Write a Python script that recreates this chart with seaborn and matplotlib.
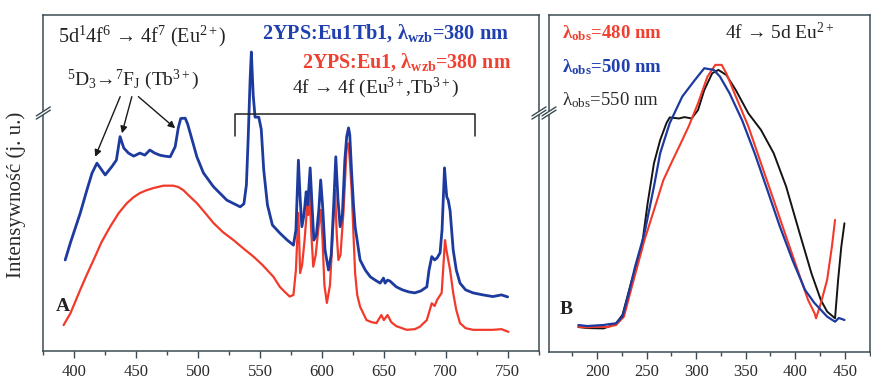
import numpy as np
import pandas as pd
import matplotlib
matplotlib.use("Agg")
import matplotlib.pyplot as plt
from matplotlib.lines import Line2D
from matplotlib.patches import Polygon
import seaborn as sns

# ---------------- data ----------------
# Panel A: emission spectra (wavelength in nm, intensity in arbitrary units)
em_eutb_wl = [392.7, 396.8, 399.4, 404.8, 410.2, 414.3, 418.3, 425.0, 430.4, 434.0, 437.0, 440.0,
              443.8, 448.0, 453.0, 457.0, 461.0, 465.0, 469.0, 473.0, 477.5, 481.5, 484.0, 486.0,
              489.6, 491.5, 493.6, 499.0, 504.3, 512.4, 523.2, 534.0, 537.0, 539.0, 540.4, 542.0,
              543.0, 544.5, 546.0, 549.0, 551.0, 553.0, 556.0, 560.0, 566.0, 572.0, 577.0, 579.0,
              581.0, 582.5, 583.8, 585.5, 587.3, 588.5, 590.5, 592.0, 593.5, 595.5, 597.5, 599.0,
              600.5, 602.5, 605.3, 607.5, 609.5, 611.2, 613.0, 614.7, 616.5, 618.5, 620.0, 621.5,
              622.5, 624.0, 625.5, 626.8, 630.8, 635.0, 639.0, 643.0, 647.0, 649.7, 651.0, 653.0,
              655.0, 660.0, 665.0, 670.0, 675.0, 680.0, 684.7, 686.5, 688.7, 691.0, 693.0, 695.4,
              697.0, 699.0, 700.0, 700.8, 702.0, 703.5, 706.0, 708.5, 711.5, 716.0, 722.0, 730.0,
              738.0, 745.0, 750.0]
em_eutb_int = [27.1, 32.1, 35.0, 41.0, 47.9, 52.9, 55.9, 52.4, 54.9, 56.8, 63.8, 60.4,
               58.9, 58.0, 58.9, 58.3, 59.8, 58.9, 58.3, 58.0, 57.8, 60.8, 66.4, 69.2,
               69.3, 67.6, 64.9, 57.8, 53.0, 48.9, 44.9, 42.9, 43.8, 49.4, 62.8, 80.7,
               89.0, 76.2, 69.6, 69.6, 66.0, 53.9, 43.5, 37.5, 35.1, 33.0, 31.5, 36.0,
               56.8, 44.9, 37.0, 40.5, 47.4, 43.5, 54.5, 43.5, 33.0, 34.5, 42.0, 50.9,
               43.5, 30.1, 24.1, 28.6, 43.5, 57.8, 44.9, 37.0, 40.5, 56.8, 63.8, 66.4,
               64.3, 53.0, 43.5, 37.0, 27.1, 24.1, 22.1, 21.1, 20.2, 21.7, 20.2, 21.1,
               20.8, 19.1, 18.2, 17.6, 17.3, 17.9, 19.1, 24.1, 28.1, 27.1, 27.7, 29.2,
               36.0, 54.5, 49.4, 45.9, 44.9, 41.8, 30.1, 24.1, 20.2, 18.2, 17.3, 16.7,
               16.2, 16.7, 16.1]

em_eu_wl = [391.4, 397.0, 404.8, 410.0, 415.6, 422.0, 429.0, 436.0, 442.5, 448.0, 453.0, 458.0,
            464.0, 472.0, 480.0, 484.0, 488.0, 493.0, 499.0, 505.0, 512.4, 520.0, 528.6, 536.0,
            544.7, 552.0, 560.8, 566.0, 570.0, 574.0, 577.0, 579.0, 581.0, 582.4, 584.0, 586.0,
            588.3, 589.0, 590.0, 591.5, 593.0, 595.0, 597.0, 599.0, 600.5, 602.0, 604.0, 606.5,
            608.5, 610.6, 612.0, 613.3, 615.0, 617.5, 620.0, 621.4, 622.5, 624.0, 625.5, 626.8,
            628.5, 630.8, 636.0, 640.0, 644.0, 648.0, 650.0, 653.0, 656.0, 660.0, 668.5, 675.0,
            679.0, 684.7, 688.7, 691.0, 693.0, 696.7, 699.4, 700.5, 701.5, 703.5, 706.0, 708.5,
            711.5, 716.0, 722.0, 730.0, 738.0, 745.0, 750.6]
em_eu_int = [7.7, 11.3, 18.2, 22.6, 27.1, 32.4, 37.0, 41.1, 44.0, 45.8, 47.0, 47.8,
             48.5, 49.2, 49.2, 48.8, 47.9, 46.1, 44.0, 41.4, 38.1, 35.4, 33.0, 30.7,
             28.1, 25.6, 22.1, 19.1, 17.6, 16.2, 16.7, 24.1, 41.1, 23.2, 25.6, 33.0,
             44.0, 40.5, 47.9, 34.5, 25.1, 28.6, 36.0, 42.0, 33.0, 19.6, 14.3, 19.6,
             33.0, 47.9, 34.5, 27.1, 28.6, 42.0, 60.8, 61.8, 56.8, 47.9, 34.5, 23.2,
             16.7, 13.2, 9.2, 8.6, 8.3, 10.7, 9.2, 10.7, 8.6, 7.4, 6.3, 6.5,
             7.2, 9.2, 14.2, 13.4, 15.2, 17.3, 33.0, 30.1, 28.1, 24.1, 17.3, 12.2,
             8.3, 6.8, 6.3, 6.3, 6.3, 6.5, 5.7]

# Panel B: excitation spectra for three observation wavelengths
ex480_wl = [180.9, 190.0, 200.0, 210.0, 219.0, 227.0, 235.0, 247.7, 257.3, 266.8, 276.3, 282.7,
            292.3, 301.8, 311.3, 319.3, 325.7, 330.4, 340.0, 352.7, 365.4, 378.2, 390.8, 403.5,
            413.0, 419.5, 421.0, 425.9, 432.2, 437.0, 440.2]
ex480_int = [7.5, 7.3, 7.5, 7.4, 8.0, 10.5, 19.4, 33.2, 42.1, 51.0, 57.0, 60.9,
             66.9, 73.8, 81.7, 85.2, 85.2, 82.7, 75.8, 66.9, 56.0, 45.1, 34.2, 23.4,
             15.4, 11.5, 10.0, 14.5, 21.4, 31.2, 39.2]

ex500_wl = [180.9, 190.0, 200.0, 206.4, 213.0, 219.0, 225.5, 231.8, 238.2, 247.7, 257.3, 263.6,
            273.2, 285.9, 298.6, 308.1, 317.7, 324.0, 333.6, 346.3, 359.0, 371.8, 384.5, 397.2,
            409.9, 419.5, 425.9, 432.2, 440.2, 444.0, 449.7]
ex500_int = [8.0, 7.7, 7.9, 8.0, 8.3, 8.5, 10.5, 17.4, 25.3, 35.2, 49.1, 59.0,
             67.9, 75.8, 80.7, 84.2, 83.7, 81.7, 76.8, 68.8, 59.0, 48.1, 37.2, 27.3,
             18.4, 14.5, 12.5, 10.5, 9.0, 10.1, 9.5]

ex550_wl = [180.9, 190.0, 206.4, 213.0, 219.0, 225.5, 235.0, 244.6, 250.9, 257.3, 263.6, 269.9,
            273.2, 282.7, 288.0, 295.4, 301.8, 308.1, 316.1, 322.4, 330.4, 340.0, 352.7, 365.4,
            378.2, 390.8, 403.5, 416.3, 425.9, 432.2, 440.2, 443.3, 446.5, 449.7]
ex550_int = [7.4, 7.1, 7.0, 7.7, 8.5, 11.0, 21.4, 30.3, 44.1, 56.0, 62.9, 67.9,
             69.6, 69.3, 69.7, 69.3, 71.8, 77.7, 82.7, 83.7, 82.2, 77.7, 70.8, 65.9,
             59.0, 49.1, 36.2, 23.4, 15.4, 12.0, 10.0, 21.4, 31.2, 38.2]

ticks_a = [400, 450, 500, 550, 600, 650, 700, 750]
ticks_b = [200, 250, 300, 350, 400, 450]

BLUE = "#1d3a9e"
RED = "#f23a2a"
BLACK = "#141414"
FRAME = "#3b4b52"

# ---------------- style ----------------
sns.set_theme(style="white")
plt.rcParams["font.family"] = ["Liberation Serif", "DejaVu Serif"]
plt.rcParams["mathtext.fontset"] = "custom"
plt.rcParams["mathtext.rm"] = "Liberation Serif"
plt.rcParams["mathtext.it"] = "Liberation Serif:italic"
plt.rcParams["mathtext.bf"] = "Liberation Serif:bold"

W, H = 871, 379
fig = plt.figure(figsize=(W / 100, H / 100), dpi=100)

# axes boxes in pixels: left, right, top, bottom
axA_px = (43.3, 539.0, 15.0, 351.0)
axB_px = (549.0, 869.5, 15.0, 352.0)

def add_axes(px):
    l, r, t, b = px
    return fig.add_axes([l / W, (H - b) / H, (r - l) / W, (b - t) / H])

axA = add_axes(axA_px)
axB = add_axes(axB_px)

dfA1 = pd.DataFrame({"wl": em_eutb_wl, "I": em_eutb_int})
dfA2 = pd.DataFrame({"wl": em_eu_wl, "I": em_eu_int})
sns.lineplot(data=dfA2, x="wl", y="I", ax=axA, color=RED, lw=1.6, sort=False)
sns.lineplot(data=dfA1, x="wl", y="I", ax=axA, color=BLUE, lw=2.0, sort=False)

dfB1 = pd.DataFrame({"wl": ex480_wl, "I": ex480_int})
dfB2 = pd.DataFrame({"wl": ex500_wl, "I": ex500_int})
dfB3 = pd.DataFrame({"wl": ex550_wl, "I": ex550_int})
sns.lineplot(data=dfB3, x="wl", y="I", ax=axB, color=BLACK, lw=1.4, sort=False)
sns.lineplot(data=dfB1, x="wl", y="I", ax=axB, color=RED, lw=1.5, sort=False)
sns.lineplot(data=dfB2, x="wl", y="I", ax=axB, color=BLUE, lw=1.6, sort=False)

axA.set_xlim(375.2, 775.3)
axB.set_xlim(151.3, 457.2)
for ax, ticks, step in ((axA, ticks_a, 25), (axB, ticks_b, 25)):
    ax.set_ylim(0, 100)
    ax.set_yticks([])
    ax.set_xticks(ticks)
    ax.set_xticks(np.arange(ticks[0] - 25, ticks[-1] + 30, 25), minor=True)
    ax.tick_params(axis="x", which="major", direction="out", length=5, width=1.0,
                   color=FRAME, labelsize=12, labelcolor="#2a2a2a", pad=4, bottom=True)
    ax.tick_params(axis="x", which="minor", direction="out", length=3, width=1.0,
                   color=FRAME, bottom=True)
    ax.set_xlabel("")
    ax.set_ylabel("")
    for s in ax.spines.values():
        s.set_color(FRAME)
        s.set_linewidth(1.1)

axA.set_ylabel("Intensywność (j. u.)", fontsize=15, color="#2a2a2a")
axA.yaxis.set_label_coords(-17 / (axA_px[1] - axA_px[0]), 0.464)

# ---------------- axis break marks ----------------
def break_mark(ax, px, xfrac, yfrac):
    l, r, t, b = px
    w, h = r - l, b - t
    dx, dy = 7.0 / w, 4.5 / h   # half extent of one slash
    gap = 3.2 / h               # vertical offset between slashes
    wipe = Polygon([(xfrac - dx, yfrac - dy - gap / 2), (xfrac + dx, yfrac + dy - gap / 2),
                    (xfrac + dx, yfrac + dy + gap / 2), (xfrac - dx, yfrac - dy + gap / 2)],
                   closed=True, transform=ax.transAxes, facecolor="white",
                   edgecolor="none", clip_on=False, zorder=5)
    ax.add_patch(wipe)
    for off in (-gap / 2, gap / 2):
        ax.add_line(Line2D([xfrac - dx, xfrac + dx], [yfrac - dy + off, yfrac + dy + off],
                           transform=ax.transAxes, color=FRAME, lw=1.0,
                           clip_on=False, zorder=6))

break_mark(axA, axA_px, 0.0, (351 - 113) / 336)
break_mark(axA, axA_px, 1.0, (351 - 113) / 336)
break_mark(axB, axB_px, 0.0, (352 - 113) / 337)

# ---------------- annotations, panel A ----------------
axA.text(387, 93.5, r"5d$^{1}$4f$^{6}$ → 4f$^{7}$ (Eu$^{2+}$)", fontsize=14.5,
         color="#222222", ha="left", va="center")
axA.text(394.4, 80.7, r"$^{5}$D$_{3}$→$^{7}$F$_{\mathrm{J}}$ (Tb$^{3+}$)", fontsize=14,
         color="#222222", ha="left", va="center")
axA.text(551.7, 94.6, r"2YPS:Eu1Tb1, λ$_{\mathbf{wzb}}$=380 nm", fontsize=14.6,
         color="#2040b0", ha="left", va="center", fontweight="bold")
axA.text(584.0, 86.0, r"2YPS:Eu1, λ$_{\mathbf{wzb}}$=380 nm", fontsize=14.4,
         color="#f04030", ha="left", va="center", fontweight="bold")
axA.text(576.0, 78.3, r"4f → 4f (Eu$^{3+}$,Tb$^{3+}$)", fontsize=14,
         color="#222222", ha="left", va="center")
axA.text(391.0, 13.1, "A", fontsize=14, fontweight="bold", color="#222222",
         ha="center", va="center")

# arrows to the Tb3+ 5D3 -> 7FJ bands
for (x0, y0), (x1, y1) in (((437.1, 75.7), (416.9, 57.8)),
                           ((446.5, 75.7), (438.5, 64.8)),
                           ((451.8, 75.7), (481.5, 66.3))):
    axA.annotate("", xy=(x1, y1), xytext=(x0, y0),
                 arrowprops=dict(arrowstyle="-|>", color="#1a1a1a", lw=1.0,
                                 mutation_scale=10, shrinkA=0, shrinkB=0))

# bracket over the 4f -> 4f lines
br_x0, br_x1, br_top, br_bot = 530.0, 723.6, 70.5, 64.0
axA.plot([br_x0, br_x0, br_x1, br_x1], [br_bot, br_top, br_top, br_bot],
         color="#222222", lw=1.1, zorder=4)

# ---------------- annotations, panel B ----------------
axB.text(164.7, 94.7, r"λ$_{\mathbf{obs}}$=480 nm", fontsize=13.5, color="#f04030",
         ha="left", va="center", fontweight="bold")
axB.text(164.7, 84.6, r"λ$_{\mathbf{obs}}$=500 nm", fontsize=13.5, color="#2040b0",
         ha="left", va="center", fontweight="bold")
axB.text(164.7, 74.8, r"λ$_{\mathrm{obs}}$=550 nm", fontsize=13.5, color="#2a2a2a",
         ha="left", va="center")
axB.text(328.8, 94.7, r"4f → 5d Eu$^{2+}$", fontsize=14, color="#222222",
         ha="left", va="center")
axB.text(168.2, 12.5, "B", fontsize=14, fontweight="bold", color="#222222",
         ha="center", va="center")

fig.savefig("out.png", dpi=100)
